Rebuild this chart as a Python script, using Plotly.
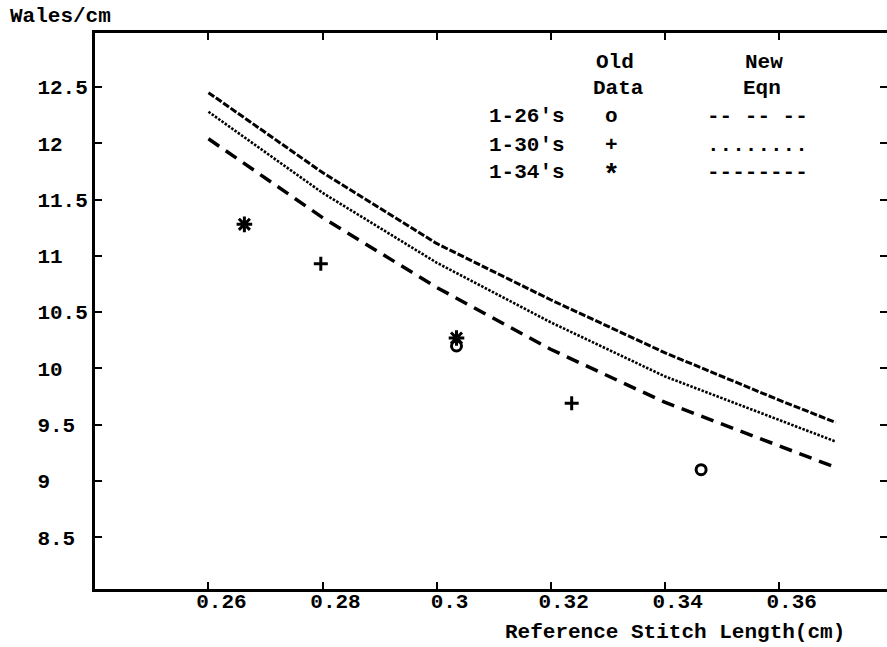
import plotly.graph_objects as go

# ---- data ----
eqn_x = [0.26, 0.28, 0.30, 0.32, 0.34, 0.36, 0.37]
eqn_26 = [12.04, 11.34, 10.72, 10.17, 9.70, 9.31, 9.12]
eqn_30 = [12.28, 11.56, 10.94, 10.41, 9.93, 9.54, 9.35]
eqn_34 = [12.45, 11.74, 11.11, 10.61, 10.14, 9.72, 9.52]

old_26_x = [0.3035, 0.3464]
old_26_y = [10.20, 9.10]
old_30_x = [0.2797, 0.3237]
old_30_y = [10.93, 9.69]
old_34_x = [0.2663, 0.3035]
old_34_y = [11.28, 10.27]

x_ticks = [0.26, 0.28, 0.30, 0.32, 0.34, 0.36]
x_tick_labels = ["0.26", "0.28", "0.3", "0.32", "0.34", "0.36"]
y_ticks = [8.5, 9, 9.5, 10, 10.5, 11, 11.5, 12, 12.5]
y_tick_labels = ["8.5", "9", "9.5", "10", "10.5", "11", "11.5", "12", "12.5"]

legend_rows = ["1-26\u2032s", "1-30\u2032s", "1-34\u2032s"]
legend_marks = ["o", "+", "*"]
legend_lines = ["-- -- --", "........", "--------"]

FONT = "Liberation Mono"
FS = 21
BLACK = "#000000"

W, H = 890, 647
L, R, T, B = 95, 0, 33, 58
PW, PH = W - L - R, H - T - B


def px(xp):
    return (xp - L) / PW


def py(yp):
    return (H - B - yp) / PH


fig = go.Figure()

fig.add_trace(go.Scatter(x=eqn_x, y=eqn_26, mode="lines",
                         line=dict(color=BLACK, width=3.5, dash="13px,8px"), showlegend=False))
fig.add_trace(go.Scatter(x=eqn_x, y=eqn_30, mode="lines",
                         line=dict(color=BLACK, width=2.6, dash="2.5px,1.5px"), showlegend=False))
fig.add_trace(go.Scatter(x=eqn_x, y=eqn_34, mode="lines",
                         line=dict(color=BLACK, width=3, dash="7px,2px"), showlegend=False))

fig.add_trace(go.Scatter(x=old_26_x, y=old_26_y, mode="markers",
                         marker=dict(symbol="circle-open", size=10, color=BLACK,
                                     line=dict(width=3, color=BLACK)), showlegend=False))
fig.add_trace(go.Scatter(x=old_30_x, y=old_30_y, mode="markers",
                         marker=dict(symbol="cross-thin-open", size=10, color=BLACK,
                                     line=dict(width=3, color=BLACK)), showlegend=False))
fig.add_trace(go.Scatter(x=old_34_x, y=old_34_y, mode="markers",
                         marker=dict(symbol="asterisk-open", size=13, color=BLACK,
                                     line=dict(width=3, color=BLACK)), showlegend=False))

ax_common = dict(showline=True, linecolor=BLACK, linewidth=3, mirror="ticks",
                 ticks="inside", ticklen=7, tickwidth=2, tickcolor=BLACK,
                 showgrid=False, zeroline=False,
                 tickfont=dict(family=FONT, size=FS, color=BLACK, weight="bold"))

fig.update_xaxes(range=[0.2401, 0.3790], tickvals=x_ticks, ticktext=x_tick_labels,
                 ticklabelshift=13, ticklabelstandoff=-9, **ax_common)
y_pad = [lab + "\u00a0" * (4 - len(lab)) for lab in y_tick_labels]
fig.update_yaxes(range=[8.04, 12.98], tickvals=y_ticks, ticktext=y_pad,
                 ticklabelstandoff=0, **ax_common)

ann = []


def text(s, xp, yp, anchor="center", size=FS):
    ann.append(dict(text=s, xref="paper", yref="paper", x=px(xp), y=py(yp),
                    xanchor=anchor, yanchor="middle", showarrow=False,
                    font=dict(family=FONT, size=size, color=BLACK, weight="bold")))


text("Wales/cm", 8, 17, "left")
text("Reference Stitch Length(cm)", 677, 632)
text("Old", 617, 62)
text("Data", 620, 88)
text("New", 767, 62)
text("Eqn", 765, 88)
row_y = [117, 145, 172]
for lab, mk, ln, yy in zip(legend_rows, legend_marks, legend_lines, row_y):
    text(lab, 488, yy, "left")
    if mk == "*":
        text(mk, 613, yy + 4, size=28)
    else:
        text(mk, 613, yy)
    text(ln, 760, yy)

fig.update_layout(width=W, height=H, margin=dict(l=L, r=R, t=T, b=B),
                  paper_bgcolor="white", plot_bgcolor="white",
                  annotations=ann, showlegend=False)

fig.write_html("out.html", config={"displayModeBar": False},
               post_script="document.body.style.margin='0';"
                           "document.body.style.overflow='hidden';")
